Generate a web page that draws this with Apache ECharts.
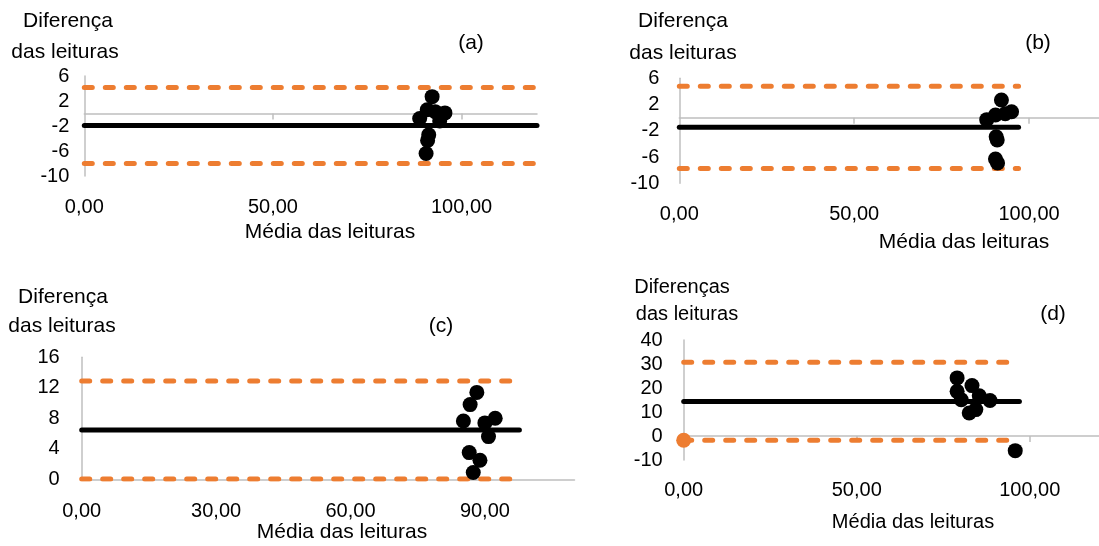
<!DOCTYPE html>
<html><head><meta charset="utf-8">
<script src="https://cdn.jsdelivr.net/npm/echarts@6/dist/echarts.min.js"></script>
<style>html,body{margin:0;padding:0;background:#fff}#c{width:1099px;height:546px}</style>
</head><body><div id="c"></div><script>
// ---------- data ----------
const panelNames = ['(a)', '(b)', '(c)', '(d)'];
const yTitleTop = ['Diferença', 'Diferença', 'Diferença', 'Diferenças'];
const yTitleBottom = 'das leituras';
const xTitle = 'Média das leituras';

const pointsA = [[92.2, 2.7], [90.9, 0.6], [88.9, -0.8], [93.0, 0.3], [95.6, 0.1], [94.2, -1.2], [91.3, -3.4], [91.0, -4.3], [90.6, -6.4]];
const pointsB = [[92.1, 2.7], [95.0, 0.9], [93.2, 0.6], [90.4, 0.4], [87.9, -0.3], [90.6, -2.9], [90.9, -3.4], [90.4, -6.3], [91.0, -6.9]];
const pointsC = [[88.2, 11.4], [86.7, 9.8], [85.2, 7.65], [90.0, 7.4], [92.3, 8.0], [90.8, 5.6], [86.5, 3.5], [88.9, 2.5], [87.4, 0.9]];
const pointsD = [[79.0, 24.2], [79.0, 18.6], [80.2, 15.1], [83.3, 21.0], [85.4, 16.8], [88.5, 14.8], [82.5, 9.6], [84.4, 11.0], [95.8, -6.1]];
const markerD = [[0, -1.8]];

const meanDiff = [-1.92, -1.47, 6.47, 14.4];
const upperLimit = [4.15, 4.8, 12.9, 30.7];
const lowerLimit = [-8.0, -7.74, 0.05, -1.8];
const lineEnd = [120, 97, 97.7, 97];

const xRange = [[0, 120], [0, 120], [0, 110], [0, 120]];
const yRange = [[-10, 6], [-10, 6], [0, 16], [-10, 40]];
const xTickLabels = [[0, 50, 100], [0, 50, 100], [0, 30, 60, 90], [0, 50, 100]];
const xTickMarks = [[50, 100], [50, 100], [], [50, 100]];
const yTickLabels = [[-10, -6, -2, 2, 6], [-10, -6, -2, 2, 6], [0, 4, 8, 12, 16], [-10, 0, 10, 20, 30, 40]];

// ---------- layout ----------
const grids = [
  {left: 84.3, top: 76, width: 452.7, height: 100},
  {left: 679.3, top: 78.3, width: 428, height: 105},
  {left: 81.7, top: 357.3, width: 492.8, height: 122},
  {left: 683.7, top: 340, width: 423.6, height: 120}
];
const xLabelMargin = [21, 21.5, 22, 20];
const yLabelMargin = [15, 20, 22, 21];
const titlePos = [
  {t1: [68, 21], t2: [65, 52], p: [471, 43], x: [330, 232]},
  {t1: [683, 21], t2: [683, 53], p: [1038, 43], x: [964, 242]},
  {t1: [63, 297], t2: [62, 326], p: [441, 326], x: [342, 532]},
  {t1: [682, 287], t2: [687, 314], p: [1053, 314], x: [913, 522]}
];

const FONT = 'Liberation Sans, Arial, sans-serif';
const GRAY = '#bfbfbf';
const ORANGE = '#ED7D31';
const fmtX = v => Number(v).toFixed(2).replace('.', ',');

const allPoints = [pointsA, pointsB, pointsC, pointsD];
const xAxes = [], yAxes = [], series = [], graphics = [];

grids.forEach((g, i) => {
  xAxes.push({
    gridIndex: i, type: 'value', min: xRange[i][0], max: xRange[i][1], position: 'bottom',
    axisLine: {show: false, onZero: false}, axisTick: {show: false}, splitLine: {show: false},
    axisLabel: {customValues: xTickLabels[i], formatter: fmtX, margin: xLabelMargin[i],
      fontSize: 20, color: '#000', fontFamily: FONT}
  });
  xAxes.push({
    gridIndex: i, type: 'value', min: xRange[i][0], max: xRange[i][1], position: 'top',
    axisLine: {show: true, onZero: true, lineStyle: {color: GRAY, width: 1.5}},
    axisTick: {show: xTickMarks[i].length > 0, customValues: xTickMarks[i], inside: true, length: 6,
      lineStyle: {color: GRAY, width: 1.5}},
    axisLabel: {show: false}, splitLine: {show: false}
  });
  yAxes.push({
    gridIndex: i, type: 'value', min: yRange[i][0], max: yRange[i][1],
    axisLine: {show: true, onZero: false, lineStyle: {color: GRAY, width: 1.5}},
    axisTick: {show: false}, splitLine: {show: false},
    axisLabel: {customValues: yTickLabels[i], margin: yLabelMargin[i], fontSize: 20, color: '#000', fontFamily: FONT}
  });
  const xi = 2 * i;
  series.push({type: 'line', xAxisIndex: xi, yAxisIndex: i, symbol: 'none', silent: true, z: 3,
    data: [[0, upperLimit[i]], [lineEnd[i], upperLimit[i]]],
    lineStyle: {color: ORANGE, width: 5, type: [8, 13], cap: 'round'}});
  series.push({type: 'line', xAxisIndex: xi, yAxisIndex: i, symbol: 'none', silent: true, z: 3,
    data: [[0, lowerLimit[i]], [lineEnd[i], lowerLimit[i]]],
    lineStyle: {color: ORANGE, width: 5, type: [8, 13], cap: 'round'}});
  series.push({type: 'line', xAxisIndex: xi, yAxisIndex: i, symbol: 'none', silent: true, z: 4,
    data: [[0, meanDiff[i]], [lineEnd[i], meanDiff[i]]],
    lineStyle: {color: '#000', width: 5, cap: 'round'}});
  series.push({type: 'scatter', xAxisIndex: xi, yAxisIndex: i, symbolSize: 15, z: 5,
    data: allPoints[i], itemStyle: {color: '#000', opacity: 1}});
  const tp = titlePos[i];
  const txt = (s, pos, size) => ({type: 'text', x: pos[0], y: pos[1], silent: true,
    style: {text: s, fill: '#000', font: size + 'px ' + FONT, align: 'center', verticalAlign: 'middle'}});
  graphics.push(txt(yTitleTop[i], tp.t1, i === 3 ? 20 : 21));
  graphics.push(txt(yTitleBottom, tp.t2, i === 3 ? 20 : 21));
  graphics.push(txt(panelNames[i], tp.p, 21));
  graphics.push(txt(xTitle, tp.x, i === 3 ? 20 : 21));
});
series.push({type: 'scatter', xAxisIndex: 6, yAxisIndex: 3, symbolSize: 15, z: 5,
  data: markerD, itemStyle: {color: ORANGE, opacity: 1}});

const chart = echarts.init(document.getElementById('c'), null, {renderer: 'canvas'});
chart.setOption({
  animation: false,
  backgroundColor: '#fff',
  grid: grids.map(g => Object.assign({containLabel: false}, g)),
  xAxis: xAxes, yAxis: yAxes, series: series, graphic: graphics
});
</script></body></html>
